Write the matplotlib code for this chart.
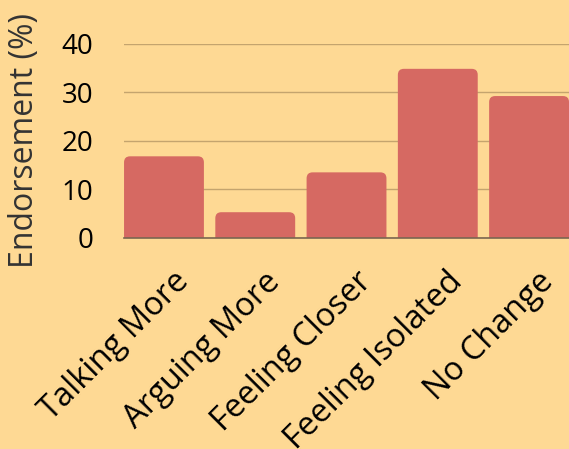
import matplotlib
matplotlib.use("Agg")
import matplotlib.pyplot as plt
import matplotlib.transforms as mtransforms
from matplotlib.patches import FancyBboxPatch

categories = ['Talking More', 'Arguing More', 'Feeling Closer', 'Feeling Isolated', 'No Change']
values = [16.8, 5.3, 13.5, 34.8, 29.2]
yticks = [0, 10, 20, 30, 40]

bg = '#FED994'
bar_color = '#D66962'

plt.rcParams['font.family'] = ['Open Sans', 'DejaVu Sans']

fig = plt.figure(figsize=(5.69, 4.49), dpi=100, facecolor=bg)
ax = fig.add_axes([0.218, 0.47, 0.782, 0.433], facecolor=bg)

x = list(range(len(categories)))
bars = ax.bar(x, values, width=0.875, color=bar_color, zorder=2)
ax.set_xlim(-0.4375, len(categories) - 0.5625)
ax.set_ylim(0, 40)
fig.canvas.draw()

# rounded top corners: swap each bar for a rounded box that dips below the baseline
px_x = ax.transData.transform((1, 0))[0] - ax.transData.transform((0, 0))[0]
px_y = ax.transData.transform((0, 1))[1] - ax.transData.transform((0, 0))[1]
radius = 6 / px_x
for b in bars:
    bx, by = b.get_x(), b.get_y()
    w, h = b.get_width(), b.get_height()
    b.set_visible(False)
    p = FancyBboxPatch((bx, -3), w, h + 3,
                       boxstyle=f"round,pad=0,rounding_size={radius}",
                       mutation_aspect=px_x / px_y,
                       facecolor=bar_color, edgecolor='none', zorder=2)
    ax.add_patch(p)

ax.set_yticks(yticks)
ax.set_xticks(x)
ax.set_xticklabels(categories, rotation=45, ha='right', va='center',
                   rotation_mode='anchor', fontsize=23.5)
ax.tick_params(axis='y', labelsize=20, length=0, pad=22)
ax.tick_params(axis='x', length=0, pad=28)
shift = mtransforms.ScaledTranslation(20 / 100, 0, fig.dpi_scale_trans)
for lbl in ax.get_xticklabels():
    lbl.set_transform(lbl.get_transform() + shift)
ax.set_ylabel('Endorsement (%)', fontsize=23, color='#333333', labelpad=15)

ax.grid(axis='y', color='#C4A46E', linewidth=1, zorder=1)
for s in ['top', 'right', 'left']:
    ax.spines[s].set_visible(False)
ax.spines['bottom'].set_color('#7A6650')
ax.spines['bottom'].set_linewidth(1.2)
ax.spines['bottom'].set_zorder(3)

fig.savefig('out.png', dpi=100, facecolor=bg)
